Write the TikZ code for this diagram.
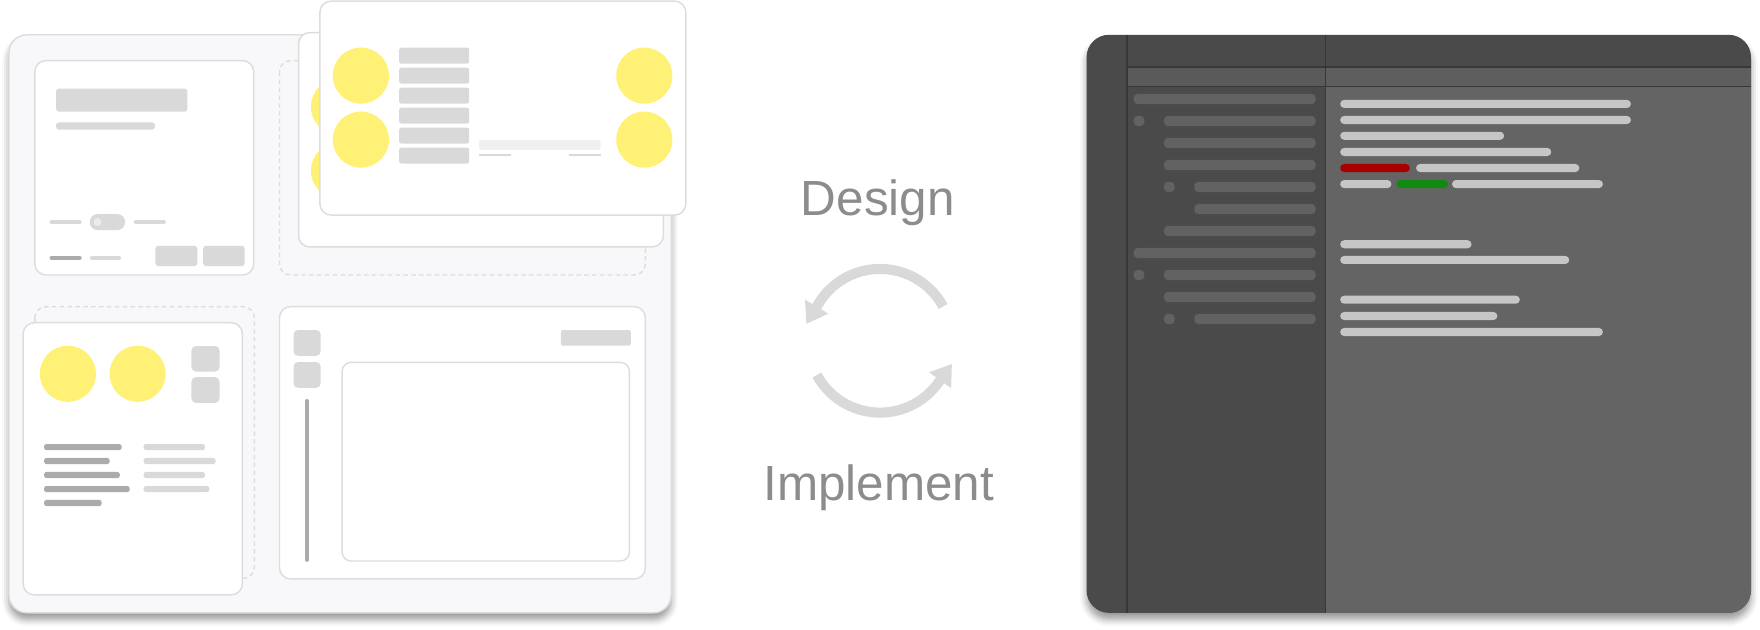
\documentclass[tikz,border=0pt]{standalone}
\usepackage{fontspec}
\setmainfont{Liberation Sans}
\usetikzlibrary{arrows.meta,calc,shadows.blur}

\definecolor{panelbg}{HTML}{F8F8FA}
\definecolor{panelline}{HTML}{DCDCDE}
\definecolor{cardline}{HTML}{DDDDDD}
\definecolor{blockgray}{HTML}{D9D9D9}
\definecolor{darkbar}{HTML}{ABABAB}
\definecolor{lightbar}{HTML}{F0F0F0}
\definecolor{knob}{HTML}{ECECEC}
\definecolor{sun}{HTML}{FFF176}
\definecolor{cyclegray}{HTML}{D9D9D9}
\definecolor{labelgray}{HTML}{8C8C8C}
\definecolor{edbase}{HTML}{4A4A4A}
\definecolor{edline}{HTML}{383838}
\definecolor{edtabl}{HTML}{5A5A5A}
\definecolor{edtabr}{HTML}{5E5E5E}
\definecolor{edbody}{HTML}{646464}
\definecolor{edtree}{HTML}{626262}
\definecolor{edcode}{HTML}{C6C6C6}
\definecolor{edred}{HTML}{A80000}
\definecolor{edgreen}{HTML}{108A10}

\tikzset{
  panelbox/.style={fill=panelbg, draw=panelline, line width=1.2pt, rounded corners=16pt,
    blur shadow={shadow xshift=0pt, shadow yshift=-6pt, shadow blur radius=6pt, shadow opacity=40}},
  card/.style={fill=white, draw=cardline, line width=1.3pt, rounded corners=10pt},
  dashbox/.style={draw=cardline, line width=1.3pt, dash pattern=on 4pt off 3pt, rounded corners=10pt},
  block/.style={fill=blockgray, rounded corners=2.5pt},
  darkblock/.style={fill=darkbar, rounded corners=2pt},
  lightblock/.style={fill=blockgray, rounded corners=2pt},
  sunspot/.style={fill=sun},
  thinrule/.style={line width=3.6pt, line cap=round},
  lbl/.style={text=labelgray, font=\fontsize{44}{50}\selectfont, inner sep=0pt, anchor=base},
  cyc/.style={draw=cyclegray, line width=9pt, -{Triangle[width=23pt,length=18pt]}},
  edpanel/.style={rounded corners=20pt,
    blur shadow={shadow xshift=0pt, shadow yshift=-6pt, shadow blur radius=6pt, shadow opacity=40}},
  edrule/.style={draw=edline, line width=1.4pt},
  treebar/.style={fill=edtree, rounded corners=3.5pt},
  codebar/.style={rounded corners=3.5pt},
}

\begin{document}
\begin{tikzpicture}[x=1pt,y=-1pt]
\useasboundingbox (0,0) rectangle (1568,561);

% ---------- design board ----------
\path[panelbox] (8,31) rectangle (598,546);

% settings card
\draw[card] (31,54) rectangle (226,245);
\fill[block] (50,79) rectangle (167,99.5);
\fill[block] (50,109) rectangle (138,115.5);
\draw[thinrule, blockgray] (46,197.8) -- (71,197.8);
\fill[blockgray, rounded corners=7pt] (80,190.7) rectangle (111.5,205);
\fill[knob] (87,197.8) circle (3.5);
\draw[thinrule, blockgray] (121,197.8) -- (146,197.8);
\draw[thinrule, darkbar] (46,229.6) -- (71,229.6);
\draw[thinrule, blockgray] (82,229.6) -- (106,229.6);
\fill[block] (138.5,219) rectangle (175.8,237);
\fill[block] (181,219) rectangle (218,237);

% stacked dialog cards
\draw[dashbox] (249,54) rectangle (575,245);
\draw[card] (266,29) rectangle (591,220);
\fill[sunspot] (302,95) circle (25);
\fill[sunspot] (302,152) circle (25);
\draw[card] (285,1) rectangle (611,191.6);
\foreach \cx/\cy in {321.5/67.4, 321.5/124.4, 574/67.4, 574/124.4}
  \fill[sunspot] (\cx,\cy) circle (25);
\foreach \i in {0,...,5}
  \fill[block, rounded corners=2pt] (355.6,42.5+17.8*\i) rectangle (418,56.7+17.8*\i);
\fill[lightbar, rounded corners=1.5pt] (426.6,124.7) rectangle (535,133.6);
\draw[blockgray, line width=1.8pt] (426.6,138) -- (455,138);
\draw[blockgray, line width=1.8pt] (506.7,138) -- (535,138);

% profile card
\draw[dashbox] (31,273.2) rectangle (226.6,515.3);
\draw[card] (20.6,287.5) rectangle (216,530);
\fill[sunspot] (60.5,333) circle (25);
\fill[sunspot] (122.6,333) circle (25);
\fill[block, rounded corners=4pt] (170.6,308.3) rectangle (195.6,331);
\fill[block, rounded corners=4pt] (170.6,336) rectangle (195.6,358.9);
\foreach \ly/\lx in {398.3/108.3, 410.7/97.6, 423.2/106.7, 435.7/115.5, 448.1/90.5}
  \fill[darkblock] (39.3,\ly-2.7) rectangle (\lx,\ly+2.7);
\foreach \ly/\lx in {398.3/182.5, 410.7/192, 423.2/182.5, 435.7/186.5}
  \fill[lightblock] (128,\ly-2.7) rectangle (\lx,\ly+2.7);

% canvas card
\draw[card] (249,273.2) rectangle (575,515.8);
\fill[block, rounded corners=4pt] (261.5,294) rectangle (285.7,317);
\fill[block, rounded corners=4pt] (261.5,322.6) rectangle (285.7,345.5);
\draw[darkbar, line width=3pt, line cap=round] (273.4,357) -- (273.4,499);
\fill[block, rounded corners=2pt] (499.6,294) rectangle (562,308);
\draw[card, rounded corners=8pt] (304.8,322.8) rectangle (560.7,499.8);

% ---------- cycle ----------
\node[lbl] (design) at (782,191.6) {Design};
\node[lbl] (implement) at (783,445.5) {Implement};
\coordinate (hub) at (784,303.6);
% each arc ends in a short tangent run that carries the arrow head
\draw[cyc] ($(hub)+(-28.5:64)$) arc[start angle=-28.5, end angle=-149, radius=64]
  -- ++(-239:21);
\draw[cyc] ($(hub)+(151.5:64)$) arc[start angle=151.5, end angle=36, radius=64]
  -- ++(-54:21);

% ---------- code editor ----------
\path[edpanel, fill=edbase] (968,31) rectangle (1560,546);
\begin{scope}
  \clip[rounded corners=20pt] (968,31) rectangle (1560,546);
  \fill[edbody] (1181,77) rectangle (1560,546);
  \fill[edtabl] (1004,59.5) rectangle (1181,77.2);
  \fill[edtabr] (1181,59.5) rectangle (1560,77.2);
  \draw[edrule] (1004,31) -- (1004,546);
  \draw[edrule] (1181,31) -- (1181,546);
  \draw[edrule] (1004,59.5) -- (1560,59.5);
  \draw[edrule] (1004,77.2) -- (1560,77.2);
\end{scope}

% file tree
\foreach \ty/\tx in {88.2/1010, 107.8/1037, 127.4/1037, 147/1037, 166.6/1064,
                     186.2/1064, 205.8/1037, 225.4/1010, 245/1037, 264.6/1037, 284.2/1064}
  \fill[treebar] (\tx,\ty-4.5) rectangle (1172,\ty+4.5);
\foreach \ty/\tx in {107.8/1010, 166.6/1037, 245/1010, 284.2/1037}
  \fill[treebar] (\tx,\ty-4.5) rectangle (\tx+9.5,\ty+4.5);

% code lines
\foreach \cy/\ca/\cb in {92.6/1194/1453, 106.9/1194/1453, 121/1194/1340, 135.4/1194/1382,
                         149.7/1261.6/1407, 164/1194/1239.6, 164/1293.6/1428,
                         217.6/1194/1311, 231.6/1194/1398,
                         267/1194/1354, 281.5/1194/1334, 295.8/1194/1428}
  \fill[codebar, edcode] (\ca,\cy-3.6) rectangle (\cb,\cy+3.6);
\fill[codebar, edred] (1194,149.7-3.6) rectangle (1256,149.7+3.6);
\fill[codebar, edgreen] (1244,164-3.6) rectangle (1290,164+3.6);
\end{tikzpicture}
\end{document}
